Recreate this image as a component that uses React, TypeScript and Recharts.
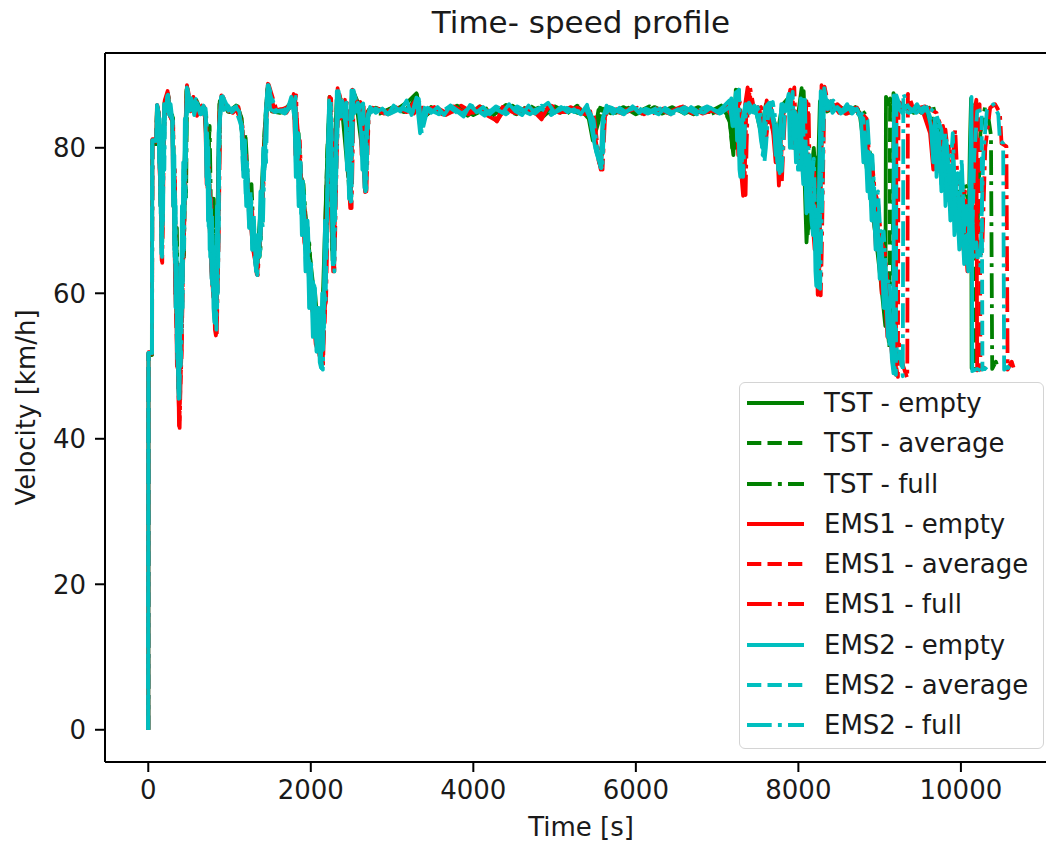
import React from 'react';
import { LineChart, Line, XAxis, YAxis, Legend, ReferenceLine, Label } from 'recharts';

// [time (s), velocity (km/h)]
const tstEmpty: [number, number][] = [
  [0,0],[3,51.5],[44,51.5],[48,80.5],[98,80.5],[106,85.6],[130,84.5],[150,74],[165,68],[185,82],[200,86.2],[240,87.5],[265,84.8],[295,84.5],[330,64],[372,47],[400,56],[440,75],[470,88],[510,85.4],[560,86.5],[620,84.8],[690,85.5],[720,80],[770,69],[818,58],[850,70],[875,86],[905,86.8],[980,85],[1060,85.6],[1130,84.6],[1200,77],[1270,70],[1330,63.5],[1385,72],[1430,82],[1465,88],[1520,85],[1620,84.8],[1720,85.4],[1770,86.8],[1820,83],[1880,76],[1950,69],[2020,62],[2080,56],[2120,52],[2150,60],[2200,78],[2230,87],[2262,66],[2290,78],[2318,86.6],[2380,85.8],[2460,76],[2505,87.2],[2570,85.3],[2650,78],[2700,85],[2800,85.5],[2950,84.8],[3100,85.6],[3200,86.4],[3300,87.5],[3360,84],[3500,85.2],[3650,84.6],[3800,85.8],[3950,84.7],[4100,85.4],[4250,84.5],[4400,85.9],[4550,84.8],[4700,85.3],[4850,84.2],[5000,85.7],[5150,84.9],[5300,85.5],[5420,84],[5470,81],[5500,82.5],[5540,85.2],[5700,84.8],[5850,85.6],[6000,84.6],[6150,85.3],[6300,84.9],[6450,85.6],[6600,84.7],[6750,85.4],[6900,84.9],[7050,85.8],[7150,84],[7200,79],[7230,88],[7290,83],[7350,85.5],[7480,85],[7540,82],[7600,86],[7730,81],[7800,85.8],[7880,86.8],[7930,82],[7990,84],[8040,88.2],[8070,78],[8100,67],[8140,75],[8190,80],[8230,72],[8265,86.4],[8330,85.2],[8450,85.8],[8580,84.7],[8700,85.6],[8760,84.2],[8820,79],[8890,73],[8960,67],[9020,61],[9070,55.5],[9078,87],[9150,85.2],[9280,85.9],[9420,84.8],[9560,85.6],[9640,82],[9720,83],[9800,80],[9860,76],[9880,73.8],[9910,71],[9940,69.7],[9980,74],[10050,70],[10090,66],[10110,80],[10125,86.8],[10132,49.7],[10190,49.5],[10225,49.8],
];

const tstAverage: [number, number][] = [
  [0,0],[3,51.6],[45,51.6],[49,80.8],[99,80.8],[107,85.7],[128,84.7],[140,79],[152,72],[160,78],[168,66],[178,75],[188,83],[205,85.8],[245,86.8],[270,84.4],[300,84.2],[312,76],[322,70],[335,62],[348,67],[362,52],[376,46],[390,54],[405,58],[420,70],[432,66],[445,77],[458,74],[472,87.8],[515,85.2],[580,86.2],[650,84.9],[700,85.3],[715,81],[730,78],[745,82],[760,71],[780,67],[795,72],[810,60],[822,57],[836,64],[852,71],[880,86.4],[920,85.5],[1000,84.9],[1080,85.8],[1140,84.2],[1175,78],[1190,81],[1210,76],[1240,72],[1260,75],[1280,69],[1310,66],[1335,63],[1355,67],[1370,65],[1390,71],[1410,76],[1435,83],[1468,88.2],[1540,85.1],[1650,84.9],[1740,86],[1790,86.5],[1815,80],[1840,81],[1870,75],[1900,74],[1930,69],[1970,67],[2000,61],[2040,60],[2070,55],[2095,54.5],[2130,51],[2145,57],[2165,62],[2185,72],[2205,80],[2235,86.5],[2250,75],[2268,64.5],[2285,72],[2300,79],[2325,87.4],[2400,85],[2440,80],[2470,74.5],[2490,79],[2510,87.5],[2600,85.6],[2640,80],[2660,76],[2680,81],[2710,85.2],[2850,84.7],[3000,85.5],[3150,84.9],[3290,87],[3350,83.5],[3480,85.6],[3620,84.8],[3780,85.5],[3930,84.4],[4080,85.7],[4230,84.8],[4380,85.3],[4530,84.6],[4680,85.9],[4830,84.9],[4980,85.4],[5130,84.5],[5280,85.8],[5430,84.4],[5480,81.3],[5520,84],[5560,85.5],[5720,84.6],[5870,85.3],[6020,84.9],[6170,85.7],[6320,84.7],[6470,85.3],[6620,84.9],[6770,85.6],[6920,84.6],[7070,85.4],[7160,83.5],[7185,80],[7210,79.5],[7245,87.9],[7270,81],[7300,82],[7360,85.3],[7500,84.8],[7560,81.5],[7620,85.8],[7700,82],[7745,79],[7810,86],[7890,87],[7945,81],[8000,84.5],[8050,87.5],[8085,76],[8100,72],[8115,68],[8135,73],[8155,76],[8180,71],[8200,78],[8225,70],[8245,69],[8280,87],[8350,85],[8470,85.6],[8600,84.8],[8720,85.5],[8790,84],[8820,80],[8850,78.5],[8880,76],[8920,72],[8950,70],[8990,65],[9020,63],[9060,58],[9090,56],[9120,52.5],[9128,86.8],[9200,85.4],[9330,85.8],[9470,84.7],[9610,85.5],[9680,82.5],[9720,79],[9760,81],[9800,78],[9840,77],[9870,74],[9900,73],[9930,70.5],[9965,70],[10010,73],[10045,68],[10080,69],[10120,66],[10145,81],[10175,86],[10185,49.6],[10235,49.8],[10265,49.5],
];

const tstFull: [number, number][] = [
  [0,0],[3,51.7],[46,51.7],[50,81],[101,81],[109,85.8],[132,84.6],[142,78],[155,73],[163,80],[172,67],[182,76],[192,83],[210,86],[250,87],[275,84.6],[305,84],[315,75],[328,70],[342,63],[352,69],[366,54],[382,47.5],[396,55],[412,57],[426,68],[440,65],[452,76],[465,73],[478,88.4],[520,85.3],[590,86.6],[660,84.8],[710,85.2],[725,81],[740,79],[755,83],[772,71],[790,68],[805,73],[818,61],[828,58.5],[842,65],[860,70],[888,86.5],[930,85.4],[1020,85],[1100,85.7],[1150,84],[1180,79],[1195,82],[1220,77],[1250,72],[1270,75],[1290,69.5],[1320,66],[1342,63.2],[1362,68],[1380,66],[1398,72],[1418,77],[1440,82],[1475,88.5],[1560,85],[1680,84.8],[1760,85.8],[1800,86.9],[1825,81],[1850,82],[1880,76],[1910,75],[1945,69],[1980,67],[2015,61],[2050,60.5],[2080,56],[2105,55],[2140,51.5],[2155,58],[2175,63],[2195,73],[2212,81],[2245,86],[2260,76],[2276,65],[2292,73],[2310,80],[2335,87.6],[2420,85.3],[2455,80],[2480,75],[2500,80],[2520,87.8],[2620,85.2],[2650,80],[2672,75.5],[2692,81],[2720,85.4],[2880,84.9],[3040,85.7],[3190,85],[3305,87.3],[3370,84],[3520,85.4],[3680,84.7],[3840,85.6],[4000,84.5],[4160,85.4],[4320,84.8],[4480,85.8],[4640,84.6],[4800,85.5],[4960,84.7],[5120,85.6],[5280,84.8],[5450,84.6],[5500,82],[5540,83.5],[5590,85.4],[5750,84.8],[5910,85.5],[6070,84.7],[6230,85.6],[6390,84.8],[6550,85.4],[6710,84.6],[6870,85.5],[7030,84.8],[7130,85.6],[7180,84],[7205,81],[7230,80],[7265,88],[7290,82],[7320,83],[7380,85.6],[7520,84.9],[7580,82],[7640,86],[7720,83],[7765,80],[7830,85.7],[7910,86.8],[7960,82],[8020,84],[8065,87.8],[8100,77],[8118,73],[8135,69],[8155,74],[8175,77],[8200,72],[8220,79],[8240,71],[8260,70],[8295,86.5],[8380,85.2],[8500,85.7],[8640,84.8],[8760,85.5],[8830,84.5],[8860,80],[8890,79],[8925,75],[8960,72.5],[8990,70],[9030,66],[9060,64],[9100,59],[9130,57],[9160,53.5],[9170,87.5],[9240,85.5],[9380,85.8],[9520,84.8],[9660,85.6],[9720,83],[9760,80],[9800,81.5],[9850,78],[9890,77],[9920,74],[9950,74],[9980,71],[10020,71.5],[10050,75],[10080,74],[10115,69],[10150,70],[10200,67],[10240,82],[10300,85.8],[10340,84],[10370,81.7],[10385,49.6],[10430,50.6],[10460,49.6],
];

const ems1Empty: [number, number][] = [
  [0,0],[3,51.8],[45,51.8],[49,81],[99,81],[107,85.8],[128,84.8],[138,77],[148,75],[156,79],[165,64.5],[175,74],[186,80],[202,86.5],[238,87.8],[262,84.5],[296,83.8],[308,72],[318,76],[330,60],[340,66],[352,50],[362,56],[378,41.8],[390,49],[402,50],[414,62],[430,66],[442,74],[458,83],[476,88.6],[512,85.2],[555,87],[600,84.4],[660,85.8],[702,84],[718,75],[732,79],[745,71],[760,74],[775,63],[790,61],[805,66],[820,55],[832,54.2],[845,62],[855,65],[872,84],[900,87.2],[960,85.4],[1040,84.8],[1110,85.6],[1148,83],[1175,77],[1195,79],[1215,75],[1245,70],[1262,73],[1280,67],[1310,65],[1335,62.6],[1355,66],[1380,68],[1400,74],[1425,79],[1455,86],[1472,88.8],[1530,85],[1620,85.3],[1700,84.8],[1750,85.8],[1790,87.4],[1810,79],[1835,82.5],[1860,74],[1890,74],[1920,67],[1960,65],[1995,59],[2030,57],[2060,53],[2090,52],[2110,55],[2130,50],[2148,58],[2168,56],[2185,67],[2200,73],[2232,87],[2255,80],[2265,70],[2275,63],[2290,71],[2305,78],[2330,88.2],[2370,84],[2420,86.6],[2440,80],[2455,79],[2470,75],[2485,71.7],[2500,79],[2512,88],[2560,85],[2610,86.3],[2625,79],[2640,80],[2655,76],[2668,73.9],[2680,80],[2698,84.5],[2760,85.5],[2900,84.7],[3040,85.6],[3180,84.9],[3280,86.4],[3350,84],[3480,85.5],[3620,84.6],[3760,85.7],[3900,84.8],[4040,85.4],[4180,84.4],[4290,83.7],[4360,85.6],[4500,84.8],[4640,85.4],[4780,84.6],[4840,83.9],[4920,85.7],[5060,84.8],[5200,85.6],[5340,84.7],[5440,85],[5480,82],[5530,79],[5568,77],[5595,83],[5650,85.6],[5800,84.8],[5950,85.5],[6100,84.6],[6250,85.4],[6400,84.9],[6550,85.6],[6700,84.7],[6850,85.5],[7000,84.8],[7120,85.8],[7170,84.5],[7240,86],[7260,79],[7280,81],[7300,76],[7320,73.4],[7335,80],[7345,86],[7375,88.3],[7420,85],[7500,85.6],[7560,82],[7610,86.5],[7690,82],[7720,78],[7740,80],[7760,74.8],[7780,80],[7800,85],[7860,85.5],[7900,88],[7920,82],[7940,80],[7965,85],[7990,83],[8015,78],[8040,77],[8060,82],[8080,86],[8095,76],[8110,73],[8135,78],[8160,76],[8180,69],[8200,66],[8220,70],[8238,59.8],[8250,66],[8262,73],[8285,88.6],[8330,85.5],[8400,86.4],[8500,84.8],[8620,85.6],[8740,84.9],[8790,83.8],[8820,78],[8850,79],[8885,73],[8920,73],[8955,66],[8990,67],[9025,60],[9060,61],[9095,54],[9130,54],[9165,50],[9200,48.8],[9206,86.8],[9280,85.2],[9400,85.8],[9540,84.7],[9620,82],[9660,77],[9700,81],[9740,78],[9780,83],[9810,76],[9840,77],[9870,72],[9900,75.5],[9925,70],[9950,72.5],[9975,68],[10000,74],[10030,66],[10060,67],[10080,63],[10098,64.8],[10130,79],[10165,85],[10190,86.6],[10200,49.4],[10240,49.7],[10265,49.5],
];

const ems1Average: [number, number][] = [
  [0,0],[3,51.7],[46,51.7],[50,80.8],[100,80.8],[108,85.7],[130,84.6],[150,73],[167,64.8],[188,81],[205,86.2],[242,87.4],[266,84.4],[300,83.5],[335,59],[382,42.5],[406,51],[435,68],[462,84],[478,88.2],[520,85],[570,86.6],[630,84.6],[690,85.6],[708,83.5],[750,70],[796,60],[836,54.5],[860,66],[878,85],[910,86.8],[990,85],[1070,85.6],[1150,83.5],[1222,74],[1290,66],[1340,62.8],[1388,69],[1430,80],[1460,86.5],[1476,88.5],[1560,84.9],[1680,85.4],[1770,86],[1805,87],[1850,81],[1905,73],[1975,64.5],[2045,57],[2105,51.5],[2140,50.3],[2178,58],[2210,75],[2240,86.6],[2262,79],[2282,63.2],[2312,78],[2336,87.6],[2380,84.3],[2432,86],[2465,78],[2492,72],[2518,87.4],[2580,85.2],[2630,85.8],[2655,80],[2675,74.2],[2705,85],[2800,85.2],[2950,84.6],[3100,85.5],[3240,84.8],[3320,86.2],[3380,84.4],[3520,85.6],[3660,84.5],[3800,85.3],[3940,84.6],[4080,85.7],[4220,84.5],[4300,83.9],[4400,85.5],[4540,84.7],[4680,85.6],[4820,84.5],[4960,85.8],[5100,84.9],[5240,85.4],[5380,84.6],[5460,84.8],[5500,81.5],[5545,78],[5578,77.3],[5605,84],[5680,85.5],[5830,84.7],[5980,85.6],[6130,84.8],[6280,85.3],[6430,84.6],[6580,85.7],[6730,84.8],[6880,85.4],[7030,84.9],[7140,85.6],[7190,84],[7255,86.4],[7295,80],[7335,74],[7360,85.5],[7390,88],[7440,85.2],[7520,85.4],[7575,81.5],[7630,86.2],[7710,81],[7775,75.5],[7820,85.4],[7880,85.6],[7925,87.8],[7960,80.5],[8010,83.5],[8060,77.5],[8100,86.4],[8130,74],[8180,75],[8220,65],[8252,60.5],[8275,74],[8300,88.2],[8360,85.2],[8460,86],[8580,84.7],[8700,85.5],[8810,83.5],[8870,78.5],[8940,72.5],[9010,66],[9080,60],[9150,53.5],[9225,48.5],[9232,86.5],[9310,85.3],[9450,85.8],[9590,84.8],[9660,82.5],[9740,80.5],[9810,82.5],[9870,76],[9930,74],[9980,71.5],[10030,73],[10090,66],[10125,64.5],[10160,80],[10200,85.2],[10230,86],[10240,49.5],[10280,49.8],[10300,49.6],
];

const ems1Full: [number, number][] = [
  [0,0],[3,51.9],[47,51.9],[51,81.2],[102,81.2],[110,85.9],[133,84.5],[143,77],[155,72],[163,78],[172,64.2],[182,73],[193,80.5],[210,86],[248,87.2],[272,84.3],[306,83.6],[318,73],[328,77],[342,58],[352,64],[366,49],[376,55],[386,41.5],[398,48],[412,52],[426,63],[442,69],[454,75],[468,84.5],[482,88.4],[530,85.2],[590,86.4],[650,84.7],[700,85.3],[715,83],[730,74],[745,78],[760,70],[775,73],[790,62],[805,59.5],[818,65],[830,55],[842,54],[855,61],[866,67],[885,85],[920,87],[1000,85.2],[1090,85.5],[1160,83],[1185,76],[1205,79],[1230,74],[1258,69],[1275,72],[1300,66.5],[1325,64],[1348,62.5],[1368,67],[1398,70],[1418,75],[1440,81],[1468,86.8],[1482,88.7],[1580,85.1],[1700,85.5],[1790,85.8],[1820,87.2],[1840,79],[1865,81],[1890,73],[1920,72],[1955,65],[1990,64],[2025,57],[2060,56],[2090,52],[2118,51],[2135,56],[2150,50],[2170,58],[2188,59],[2205,69],[2220,76],[2250,86.8],[2270,78],[2280,70],[2290,63],[2305,71],[2320,79],[2345,87.9],[2395,84.5],[2445,86.2],[2462,80],[2478,78.5],[2490,75],[2502,71.7],[2515,79],[2528,87.6],[2600,85],[2650,86.1],[2660,80],[2670,80],[2678,76],[2685,74],[2700,80],[2715,85],[2820,85.4],[2970,84.8],[3120,85.6],[3270,84.7],[3340,86.5],[3400,84.5],[3550,85.5],[3700,84.6],[3850,85.8],[4000,84.8],[4150,85.5],[4290,83.6],[4380,85.4],[4530,84.8],[4680,85.6],[4830,84.6],[4980,85.7],[5130,84.9],[5280,85.5],[5420,84.7],[5480,84.8],[5520,81],[5565,77.5],[5590,77],[5620,84],[5700,85.6],[5860,84.8],[6020,85.5],[6180,84.6],[6340,85.4],[6500,84.8],[6660,85.6],[6820,84.7],[6980,85.3],[7100,84.9],[7170,85.6],[7220,84],[7280,86.3],[7298,80],[7315,79],[7332,76],[7350,73.5],[7362,80],[7375,85],[7405,88.3],[7460,85],[7540,85.6],[7600,81],[7655,86],[7735,81.5],[7760,78],[7780,80],[7795,75],[7815,80],[7840,85.6],[7900,85.8],[7950,88.3],[7968,82],[7985,80],[8010,85],[8035,83],[8060,78],[8085,77],[8105,82],[8125,86],[8140,76],[8155,73],[8180,78],[8205,75],[8225,69],[8245,65],[8260,68],[8275,59.7],[8288,66],[8300,74],[8322,88.4],[8380,85.3],[8480,86],[8600,84.7],[8720,85.5],[8840,84],[8870,79],[8900,79],[8940,74],[8980,72.5],[9020,67],[9060,66],[9100,61],[9140,59.5],[9190,55],[9240,53],[9290,50],[9340,48.3],[9348,87.4],[9420,85.3],[9560,85.7],[9700,84.8],[9780,82],[9820,77],[9860,80.5],[9895,78],[9930,82.5],[9960,75],[9990,76],[10020,71],[10050,74],[10075,69],[10100,72],[10130,68],[10160,73],[10190,65],[10220,66],[10260,65],[10300,80],[10360,85.5],[10420,86],[10480,84.8],[10500,80.6],[10560,80.2],[10575,49.5],[10625,50.6],[10648,49.8],
];

const ems2Empty: [number, number][] = [
  [0,0],[3,51.8],[45,51.8],[50,81],[100,81],[108,85.8],[125,84.8],[135,78],[142,84],[150,72],[156,80],[160,65.5],[168,76],[174,70],[180,82],[188,78],[195,86],[215,85],[235,87.2],[255,84.6],[275,86],[295,84],[305,72],[312,80],[320,66],[328,74],[336,58],[344,66],[352,52],[360,60],[368,48],[375,45.5],[382,56],[390,50],[398,64],[406,58],[414,72],[422,66],[430,78],[440,72],[450,84],[460,79],[475,88.3],[500,85],[530,86.8],[565,84.5],[600,86.2],[640,85],[680,85.8],[705,84],[715,76],[725,82],[735,70],[745,77],[755,66],[765,73],[778,62],[790,68],[802,58],[815,56],[825,64],[835,59],[845,72],[855,68],[865,82],[895,87],[930,85.2],[980,85.8],[1030,84.9],[1080,85.5],[1120,85],[1150,82],[1170,76],[1185,80],[1205,72],[1220,77],[1240,69],[1260,73],[1280,66],[1300,70],[1325,63],[1345,68],[1360,65],[1380,74],[1395,70],[1415,80],[1430,77],[1445,85],[1470,88.6],[1500,85.3],[1560,84.9],[1620,85.1],[1680,84.7],[1720,85.5],[1760,87],[1800,84],[1815,76],[1830,82],[1850,72],[1870,78],[1890,68],[1910,74],[1935,63],[1955,70],[1980,58],[2000,64],[2025,54],[2045,61],[2070,52],[2090,58],[2110,50.5],[2125,49.8],[2140,60],[2155,55],[2175,70],[2190,65],[2210,80],[2225,86.5],[2250,82],[2260,72],[2270,64],[2280,74],[2295,70],[2310,80],[2320,87.8],[2350,84.2],[2390,86.4],[2430,83],[2445,77],[2455,82],[2470,73],[2485,80],[2500,87.9],[2540,84.8],[2580,86.2],[2620,82],[2635,77],[2645,81],[2660,74.5],[2675,80],[2690,84],[2730,85.6],[2800,84.8],[2880,85.4],[2950,84.6],[3020,85.8],[3100,85],[3180,86.5],[3240,84.5],[3300,86.9],[3345,82],[3400,85.5],[3480,84.8],[3560,85.6],[3640,84.5],[3720,85.8],[3800,85],[3880,84.3],[3960,85.9],[4040,84.9],[4120,85.6],[4200,84.6],[4280,85.4],[4360,84.8],[4440,86],[4520,85],[4600,84.5],[4680,85.8],[4760,84.7],[4840,85.5],[4920,86.2],[5000,84.8],[5080,85.6],[5160,84.9],[5240,85.3],[5320,84.6],[5400,85.9],[5450,83],[5500,80],[5540,78.5],[5565,77.3],[5590,84],[5640,85.8],[5720,84.7],[5800,85.5],[5880,84.9],[5960,85.7],[6040,84.8],[6120,85.4],[6200,85],[6280,84.6],[6360,85.5],[6440,84.9],[6520,85.3],[6600,84.7],[6680,85.6],[6760,85],[6840,84.8],[6920,85.5],[7000,84.9],[7080,85.7],[7150,86.5],[7190,83],[7230,87.6],[7245,81],[7260,84],[7275,77],[7285,76],[7298,81],[7310,84],[7350,86],[7400,84.8],[7460,85.8],[7520,83],[7540,81],[7555,80],[7590,85.5],[7640,86.2],[7700,83],[7720,79],[7735,82],[7750,77],[7790,86],[7840,85],[7880,87.4],[7895,80],[7910,81],[7930,85],[7950,84.5],[7970,78],[7990,79],[8010,84],[8030,86.8],[8045,78],[8060,75],[8075,80],[8100,71],[8120,76],[8140,79],[8160,70],[8180,68],[8195,72],[8210,63],[8220,61],[8235,68],[8250,72],[8262,80],[8275,87.8],[8310,85.2],[8360,86.5],[8420,84.8],[8480,85.6],[8540,85],[8600,86],[8660,84.7],[8720,85.4],[8770,84],[8800,78],[8820,82],[8850,74],[8870,79],[8900,70],[8920,75],[8950,66],[8970,71],[9000,62],[9020,67],[9050,58],[9070,63],[9100,54],[9120,58],[9150,51],[9170,49],[9175,87.2],[9220,85.5],[9280,84.8],[9340,85.8],[9400,85],[9460,86],[9520,84.8],[9580,85.6],[9630,83],[9660,78],[9680,84],[9700,76],[9730,82],[9760,74],[9790,80],[9810,72],[9840,78],[9870,70],[9900,76],[9920,68],[9950,73],[9980,66],[10010,71],[10040,64],[10070,68],[10090,63],[10115,78],[10130,87],[10140,49.3],[10200,49.6],[10240,49.4],
];

const ems2Average: [number, number][] = [
  [0,0],[3,51.8],[45,51.8],[49,81],[100,81],[108,85.8],[128,84.7],[138,77],[145,83],[150,72],[158,79],[165,65.3],[172,75],[178,69],[186,81],[194,77],[203,86],[240,87],[262,84.5],[298,83.9],[308,73],[316,79],[324,65],[332,73],[340,59],[348,65],[356,51],[364,59],[372,47],[380,45.2],[388,55],[395,51],[402,63],[410,57],[418,71],[426,65],[434,77],[444,71],[454,83],[464,78],[478,88],[525,85.3],[580,86.5],[640,84.6],[700,85.5],[712,83.5],[722,75],[732,81],[742,69],[752,76],[762,65],[772,72],[785,61],[797,67],[810,57],[828,55.5],[838,63],[848,58],[856,71],[866,67],[876,83],[905,86.9],[985,85.1],[1065,85.6],[1145,83],[1165,77],[1180,81],[1200,73],[1218,78],[1238,70],[1258,74],[1278,67],[1298,71],[1320,64],[1332,62.8],[1350,68],[1366,65],[1385,72],[1400,70],[1420,79],[1436,77],[1462,87],[1475,88.4],[1560,85],[1680,85.2],[1760,86.4],[1800,86.6],[1818,77],[1835,82],[1855,72],[1875,78],[1895,68],[1915,74],[1940,63],[1960,70],[1985,58],[2005,64],[2030,55],[2050,61],[2075,52],[2095,58],[2115,51],[2132,49.7],[2148,59],[2162,55],[2180,70],[2195,66],[2212,80],[2236,86.2],[2255,81],[2265,72],[2278,63.5],[2288,73],[2300,70],[2315,80],[2330,87.6],[2375,84.3],[2425,86],[2448,77],[2460,81],[2478,73],[2490,72.6],[2502,80],[2515,87.5],[2575,85],[2630,86],[2642,78],[2655,80],[2665,75],[2672,74],[2685,80],[2700,84.5],[2800,85.4],[2950,84.6],[3100,85.5],[3250,84.8],[3310,86.6],[3352,82.2],[3420,85.4],[3560,84.7],[3700,85.6],[3840,84.5],[3980,85.8],[4120,84.7],[4260,85.4],[4400,84.6],[4540,85.7],[4680,84.8],[4820,85.5],[4960,84.5],[5100,85.8],[5240,84.9],[5380,85.4],[5460,83.5],[5510,79.5],[5550,78],[5575,77.2],[5600,84.2],[5680,85.6],[5830,84.7],[5980,85.5],[6130,84.8],[6280,85.6],[6430,84.6],[6580,85.4],[6730,84.9],[6880,85.7],[7030,84.7],[7140,85.5],[7175,86.8],[7210,83],[7250,87.8],[7262,81],[7275,80],[7288,83],[7300,76.3],[7312,80],[7325,84],[7370,86],[7440,84.9],[7500,85.6],[7540,82.5],[7560,79],[7575,80.2],[7610,85.4],[7660,86.2],[7720,82.5],[7740,78],[7755,81],[7770,76.5],[7810,86],[7865,85.2],[7905,87.6],[7920,80],[7935,81],[7955,85],[7975,84.5],[7995,77],[8015,78.5],[8035,84],[8055,87],[8070,77],[8085,75],[8100,80],[8125,71],[8145,76],[8165,78],[8185,70],[8205,67.5],[8220,71],[8235,62],[8245,60.8],[8260,68],[8272,72],[8285,80],[8298,88],[8340,85.2],[8400,86.4],[8480,84.8],[8600,85.6],[8720,84.8],[8800,84],[8825,78],[8850,79.5],[8880,73],[8910,75.5],[8940,69],[8970,70.5],[9000,64],[9030,65.5],[9060,58],[9090,59.5],[9120,53],[9150,53.5],[9180,50],[9200,48.8],[9206,87.2],[9260,85.4],[9360,84.8],[9480,85.7],[9600,84.9],[9660,83],[9690,78],[9710,83],[9730,80],[9760,75],[9800,82],[9825,73],[9850,76],[9875,72],[9900,79],[9930,69],[9960,72],[9990,67],[10020,75],[10050,65],[10080,67],[10105,64],[10130,63.5],[10165,79],[10200,85],[10255,85.2],[10265,49.5],[10300,49.7],[10320,49.5],
];

const ems2Full: [number, number][] = [
  [0,0],[3,51.8],[46,51.8],[50,81],[101,81],[109,85.9],[130,84.6],[140,77],[147,83],[152,71],[160,79],[169,65],[176,75],[182,70],[190,80.5],[198,77],[207,86.2],[245,87.3],[268,84.4],[303,83.7],[313,72],[321,79],[329,64],[337,72],[345,58],[353,64],[361,50],[369,58],[377,47],[384,45],[392,54],[400,50],[408,53.5],[416,63],[424,58],[432,70],[440,66],[450,78],[458,73],[466,84.2],[480,88.3],[528,85.2],[585,86.7],[650,84.6],[705,85.4],[720,83.2],[730,75],[740,80],[750,69],[762,72],[772,65],[784,71],[796,60],[808,61.5],[818,56],[828,62],[838,55],[848,63],[856,60],[862,65],[872,79],[882,84],[915,87.1],[995,85.2],[1080,85.7],[1155,83],[1175,77],[1190,81],[1210,73],[1228,74],[1248,69],[1265,73],[1280,66],[1295,67],[1318,64],[1342,62.5],[1358,67],[1375,65],[1393,70.5],[1410,69],[1436,81],[1450,78],[1466,87],[1480,88.6],[1570,85.1],[1690,84.8],[1775,86],[1812,87],[1830,78],[1845,82],[1858,80.5],[1880,71],[1900,76],[1915,72],[1945,66],[1965,69],[1980,64.5],[2010,58],[2030,62],[2048,57],[2075,53],[2092,57],[2108,52],[2128,50.5],[2148,49.5],[2165,60],[2182,58.5],[2200,71],[2218,77],[2248,86.4],[2262,80],[2270,79.5],[2280,70],[2290,63],[2300,72],[2318,78],[2342,87.8],[2390,84.3],[2440,86.2],[2458,79],[2475,78],[2488,74],[2500,72.4],[2512,80],[2526,87.9],[2590,85.1],[2645,86.1],[2656,79],[2668,80],[2676,75],[2684,74.3],[2698,81],[2712,84.8],[2830,85.6],[2980,84.7],[3130,85.5],[3280,84.8],[3330,86.7],[3365,82],[3440,85.5],[3580,84.6],[3720,85.8],[3860,84.7],[4000,85.5],[4140,84.4],[4280,85.7],[4420,84.8],[4560,85.3],[4700,84.6],[4840,85.8],[4980,84.7],[5120,85.5],[5260,84.8],[5400,85.6],[5480,83.8],[5530,79.3],[5565,77.6],[5588,77],[5612,84.5],[5700,85.5],[5850,84.6],[6000,85.7],[6150,84.7],[6300,85.4],[6450,84.8],[6600,85.6],[6750,84.6],[6900,85.5],[7050,84.8],[7150,85.6],[7195,86.9],[7235,83],[7270,88],[7283,81],[7295,80.5],[7308,83],[7320,76],[7332,80],[7345,84],[7390,86.2],[7460,84.8],[7520,85.6],[7565,82],[7582,78],[7600,80],[7635,85.6],[7685,86.3],[7745,82],[7765,78],[7780,81],[7795,76.8],[7835,85.8],[7890,85.3],[7930,87.7],[7945,80],[7960,81],[7980,85],[8000,84.7],[8020,77],[8040,78],[8060,84],[8080,87.2],[8095,77],[8110,75.5],[8125,80],[8150,71.5],[8170,76],[8190,78.5],[8210,70],[8230,67],[8245,71],[8258,62],[8268,60.6],[8280,68],[8292,72],[8305,80],[8318,88.2],[8360,85.3],[8430,86.5],[8520,84.7],[8640,85.6],[8760,84.9],[8850,83.8],[8880,78],[8910,79],[8945,72],[8980,74],[9015,67],[9050,68.5],[9085,61],[9120,62],[9155,55],[9190,55.5],[9220,51],[9250,52],[9285,48.6],[9292,87.5],[9350,85.6],[9450,84.8],[9570,85.8],[9690,84.8],[9760,82.5],[9790,78],[9810,82],[9830,80.2],[9860,75],[9900,82],[9930,73],[9960,76.5],[9985,71],[10010,78.5],[10040,69],[10070,72],[10100,67],[10130,74],[10160,65],[10190,67],[10215,64],[10240,63.8],[10275,79],[10320,85.2],[10400,86],[10460,84.6],[10480,81],[10520,80.6],[10532,49.5],[10575,49.9],[10600,49.6],
];

const xTicks = [0, 2000, 4000, 6000, 8000, 10000];
const yTicks = [0, 20, 40, 60, 80];
const X_DOMAIN: [number, number] = [-532.5, 11182.5];
const Y_DOMAIN: [number, number] = [-4.43, 93.03];

const GREEN = '#008000';
const RED = '#ff0000';
const CYAN = '#00bfbf';
const DASHED = '14.3 6.2';
const DASHDOT = '24.7 6.2 3.9 6.2';
const LW = 3.8;
const TEXT = '#1a1a1a';
const FONT = '"DejaVu Sans", sans-serif';

const toPoints = (arr: [number, number][]) => arr.map(([t, v]) => ({ t, v }));

const series = [
  { name: 'TST - empty', data: tstEmpty, color: GREEN, dash: undefined },
  { name: 'TST - average', data: tstAverage, color: GREEN, dash: DASHED },
  { name: 'TST - full', data: tstFull, color: GREEN, dash: DASHDOT },
  { name: 'EMS1 - empty', data: ems1Empty, color: RED, dash: undefined },
  { name: 'EMS1 - average', data: ems1Average, color: RED, dash: DASHED },
  { name: 'EMS1 - full', data: ems1Full, color: RED, dash: DASHDOT },
  { name: 'EMS2 - empty', data: ems2Empty, color: CYAN, dash: undefined },
  { name: 'EMS2 - average', data: ems2Average, color: CYAN, dash: DASHED },
  { name: 'EMS2 - full', data: ems2Full, color: CYAN, dash: DASHDOT },
];

// legend keeps the plotting order (recharts would sort entries by name)
const LegendBox = () => (
  <div
    style={{
      width: 305,
      height: 367,
      boxSizing: 'border-box',
      border: '1.5px solid #d4d4d4',
      borderRadius: 6,
      background: 'rgba(255,255,255,0.8)',
      fontFamily: FONT,
    }}
  >
    {series.map((s) => (
      <div key={s.name} style={{ display: 'flex', alignItems: 'center', height: 40.25 }}>
        <svg width={57} height={10} style={{ marginLeft: 7, flex: 'none' }}>
          <line x1={0} x2={57} y1={5} y2={5} stroke={s.color} strokeWidth={LW} strokeDasharray={s.dash} />
        </svg>
        <span style={{ marginLeft: 20, fontSize: 26, lineHeight: '26px', color: TEXT, whiteSpace: 'nowrap' }}>
          {s.name}
        </span>
      </div>
    ))}
  </div>
);

const YLabel = (props: any) => {
  const vb = props.viewBox || { y: 53, height: 709 };
  const cy = vb.y + vb.height / 2;
  return (
    <text
      x={26}
      y={cy}
      transform={`rotate(-90, 26, ${cy})`}
      textAnchor="middle"
      dominantBaseline="central"
      fill={TEXT}
      fontSize={26}
    >
      Velocity [km/h]
    </text>
  );
};

export default function App() {
  return (
    <div
      style={{
        position: 'fixed',
        left: 0,
        top: 0,
        width: 1046,
        height: 848,
        overflow: 'hidden',
        background: '#fff',
        fontFamily: FONT,
      }}
    >
      <div
        style={{
          position: 'absolute',
          left: 0,
          top: 7,
          width: 1162,
          textAlign: 'center',
          fontSize: 31,
          lineHeight: '31px',
          color: TEXT,
        }}
      >
        Time- speed profile
      </div>
      <div style={{ position: 'absolute', left: 0, top: 0 }}>
        <LineChart width={1060} height={848} margin={{ top: 53, right: 3, bottom: 0, left: 0 }}>
          <XAxis
            dataKey="t"
            type="number"
            domain={X_DOMAIN}
            ticks={xTicks}
            allowDataOverflow
            height={86}
            tickSize={10}
            tickMargin={9}
            axisLine={{ stroke: '#000', strokeWidth: 2 }}
            tickLine={{ stroke: '#000', strokeWidth: 2 }}
            tick={{ fill: TEXT, fontSize: 26 }}
            label={{ value: 'Time [s]', position: 'insideBottom', offset: 12, fill: TEXT, fontSize: 26 }}
          />
          <YAxis
            dataKey="v"
            type="number"
            domain={Y_DOMAIN}
            ticks={yTicks}
            allowDataOverflow
            width={105}
            tickSize={10}
            tickMargin={9}
            axisLine={{ stroke: '#000', strokeWidth: 2 }}
            tickLine={{ stroke: '#000', strokeWidth: 2 }}
            tick={{ fill: TEXT, fontSize: 26 }}
          >
            <Label content={<YLabel />} />
          </YAxis>
          <ReferenceLine y={Y_DOMAIN[1]} stroke="#000" strokeWidth={2} />
          <ReferenceLine x={X_DOMAIN[1]} stroke="#000" strokeWidth={2} />
          {series.map((s) => (
            <Line
              key={s.name}
              name={s.name}
              data={toPoints(s.data)}
              dataKey="v"
              type="linear"
              stroke={s.color}
              strokeWidth={LW}
              strokeDasharray={s.dash}
              strokeLinejoin="round"
              dot={false}
              activeDot={false}
              isAnimationActive={false}
            />
          ))}
          <Legend
            layout="horizontal"
            verticalAlign="middle"
            align="center"
            content={<LegendBox />}
            wrapperStyle={{ left: 739, top: 382, width: 305, height: 367 }}
          />
        </LineChart>
      </div>
    </div>
  );
}
